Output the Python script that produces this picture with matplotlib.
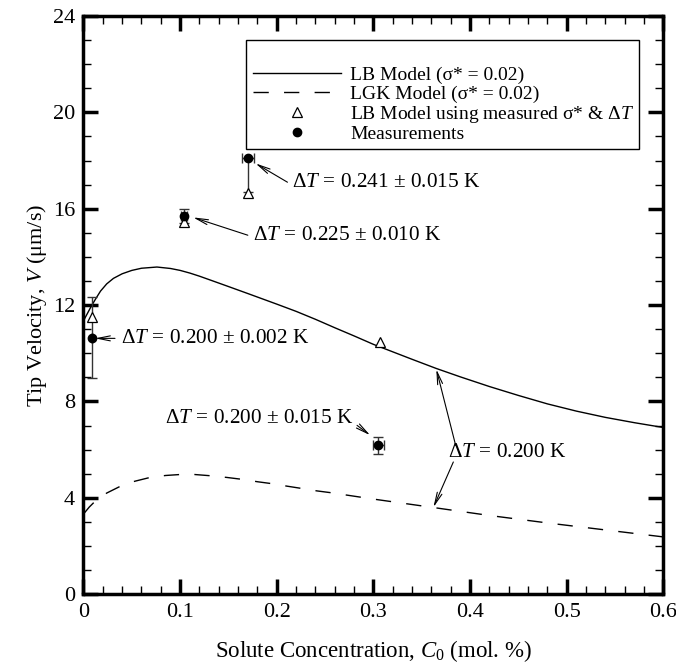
import matplotlib
matplotlib.use("Agg")
import matplotlib.pyplot as plt
from matplotlib.ticker import MultipleLocator
from matplotlib.patches import Rectangle

plt.rcParams['font.family'] = ['Liberation Serif', 'DejaVu Serif']
plt.rcParams['mathtext.fontset'] = 'custom'
plt.rcParams['mathtext.rm'] = 'Liberation Serif'
plt.rcParams['mathtext.it'] = 'Liberation Serif:italic'

# LB model curve (sigma* = 0.02)
lb_x = [0, 0.004, 0.008, 0.012, 0.0176, 0.024, 0.031, 0.04, 0.05, 0.06, 0.076, 0.09, 0.1, 0.11,
        0.12, 0.134, 0.15, 0.17, 0.2, 0.22, 0.24, 0.26, 0.28, 0.3, 0.32, 0.34, 0.365, 0.39,
        0.42, 0.45, 0.48, 0.51, 0.54, 0.57, 0.6]
lb_y = [11.35, 11.65, 11.95, 12.22, 12.58, 12.88, 13.11, 13.3, 13.44, 13.53, 13.58, 13.52, 13.44, 13.33,
        13.2, 13.0, 12.77, 12.48, 12.04, 11.74, 11.41, 11.06, 10.72, 10.37, 10.06, 9.75, 9.37, 9.02,
        8.62, 8.25, 7.9, 7.6, 7.34, 7.12, 6.92]
# LGK model curve (sigma* = 0.02)
lgk_x = [0, 0.006, 0.012, 0.024, 0.038, 0.053, 0.069, 0.085, 0.1, 0.115, 0.131, 0.148, 0.164,
         0.18, 0.195, 0.21, 0.226, 0.2415, 0.255, 0.3, 0.362, 0.42, 0.48, 0.542, 0.6]
lgk_y = [3.33, 3.62, 3.86, 4.2, 4.48, 4.69, 4.85, 4.93, 4.97, 4.97, 4.92, 4.85, 4.77,
         4.67, 4.59, 4.49, 4.39, 4.29, 4.22, 3.95, 3.6, 3.27, 2.96, 2.66, 2.38]
# LB model using measured sigma* & dT
tri_x = [0.009, 0.104, 0.170, 0.307]
tri_y = [11.5, 15.45, 16.65, 10.47]
# Measurements
meas_x = [0.009, 0.104, 0.170, 0.305]
meas_y = [10.62, 15.7, 18.1, 6.18]
meas_yerr_lo = [1.66, 0.3, 1.4, 0.34]
meas_yerr_hi = [1.72, 0.3, 0.0, 0.34]
meas_xerr = [0.0, 0.003, 0.0064, 0.0057]

fig = plt.figure(figsize=(6.76, 6.64), dpi=100)
ax = fig.add_axes([0.1235, 0.105, 0.858, 0.871])

ax.plot(lb_x, lb_y, color='black', lw=1.0, label='LB Model (σ* = 0.02)')
ax.plot(lgk_x, lgk_y, color='black', lw=1.0, dashes=(11, 11), label='LGK Model (σ* = 0.02)')
ax.errorbar(meas_x, meas_y, yerr=[meas_yerr_lo, meas_yerr_hi], xerr=meas_xerr,
            fmt='none', ecolor='#333333', elinewidth=1.0, capsize=3.5, capthick=1.0, zorder=3)
ax.plot(tri_x, tri_y, linestyle='none', marker='^', markersize=7.5, markerfacecolor='white',
        markeredgecolor='black', markeredgewidth=0.9, label='LB Model using measured σ* & Δ$T$', zorder=4)
ax.plot(meas_x, meas_y, linestyle='none', marker='o', markersize=6, color='black',
        label='Measurements', zorder=5)

ax.set_xlim(0, 0.6)
ax.set_ylim(0, 24)
ax.xaxis.set_major_locator(MultipleLocator(0.1))
ax.xaxis.set_minor_locator(MultipleLocator(0.02))
ax.yaxis.set_major_locator(MultipleLocator(4))
ax.yaxis.set_minor_locator(MultipleLocator(1))
ax.set_xticks([0, 0.1, 0.2, 0.3, 0.4, 0.5, 0.6])
ax.set_xticklabels(['0', '0.1', '0.2', '0.3', '0.4', '0.5', '0.6'])
ax.tick_params(which='major', direction='in', length=11, width=2.5, top=True, right=True, labelsize=16, pad=6)
ax.tick_params(which='minor', direction='in', length=6, width=1.0, top=True, right=True)
for s in ax.spines.values():
    s.set_linewidth(2.5)

ax.set_xlabel('Solute Concentration, $C_0$ (mol. %)', fontsize=16.5, labelpad=12)
ax.set_ylabel('Tip Velocity, $V$ (μm/s)', fontsize=16, labelpad=3)

# legend box
ax.add_patch(Rectangle((0.2804, 0.7694), 0.957 - 0.2804, 0.958 - 0.7694, transform=ax.transAxes,
                       facecolor='white', edgecolor='black', lw=1.0, zorder=6))
leg = ax.legend(loc='upper left', bbox_to_anchor=(0.2925, 0.913), borderaxespad=0, borderpad=0,
                fontsize=14, handlelength=4.5, frameon=False,
                labelspacing=0.05, handletextpad=0.5)
leg.set_zorder(7)

fs = 15.3
ap = dict(arrowstyle='->,head_length=0.9,head_width=0.18', color='black', lw=0.8,
          shrinkA=0, shrinkB=0)
# 0.241
ax.annotate('', xy=(0.178, 17.88), xytext=(0.211, 17.1), arrowprops=ap)
ax.text(0.216, 17.1, 'Δ$T$ = 0.241 ± 0.015 K', fontsize=fs, ha='left', va='center')
# 0.225
ax.annotate('', xy=(0.1134, 15.64), xytext=(0.170, 14.9), arrowprops=ap)
ax.text(0.1755, 14.9, 'Δ$T$ = 0.225 ± 0.010 K', fontsize=fs, ha='left', va='center')
# 0.200 +- 0.002
ax.annotate('', xy=(0.0119, 10.62), xytext=(0.0326, 10.62), arrowprops=ap)
ax.text(0.039, 10.62, 'Δ$T$ = 0.200 ± 0.002 K', fontsize=fs, ha='left', va='center')
# 0.200 +- 0.015
ax.annotate('', xy=(0.2966, 6.6), xytext=(0.283, 7.01), arrowprops=ap)
ax.text(0.279, 7.3, 'Δ$T$ = 0.200 ± 0.015 K', fontsize=fs, ha='right', va='center')
# 0.200 K model curves
ax.annotate('', xy=(0.365, 9.34), xytext=(0.385, 6.18), arrowprops=ap)
ax.annotate('', xy=(0.362, 3.61), xytext=(0.3826, 5.49), arrowprops=ap)
ax.text(0.3774, 5.9, 'Δ$T$ = 0.200 K', fontsize=fs, ha='left', va='center')

fig.savefig('out.png', dpi=100)
